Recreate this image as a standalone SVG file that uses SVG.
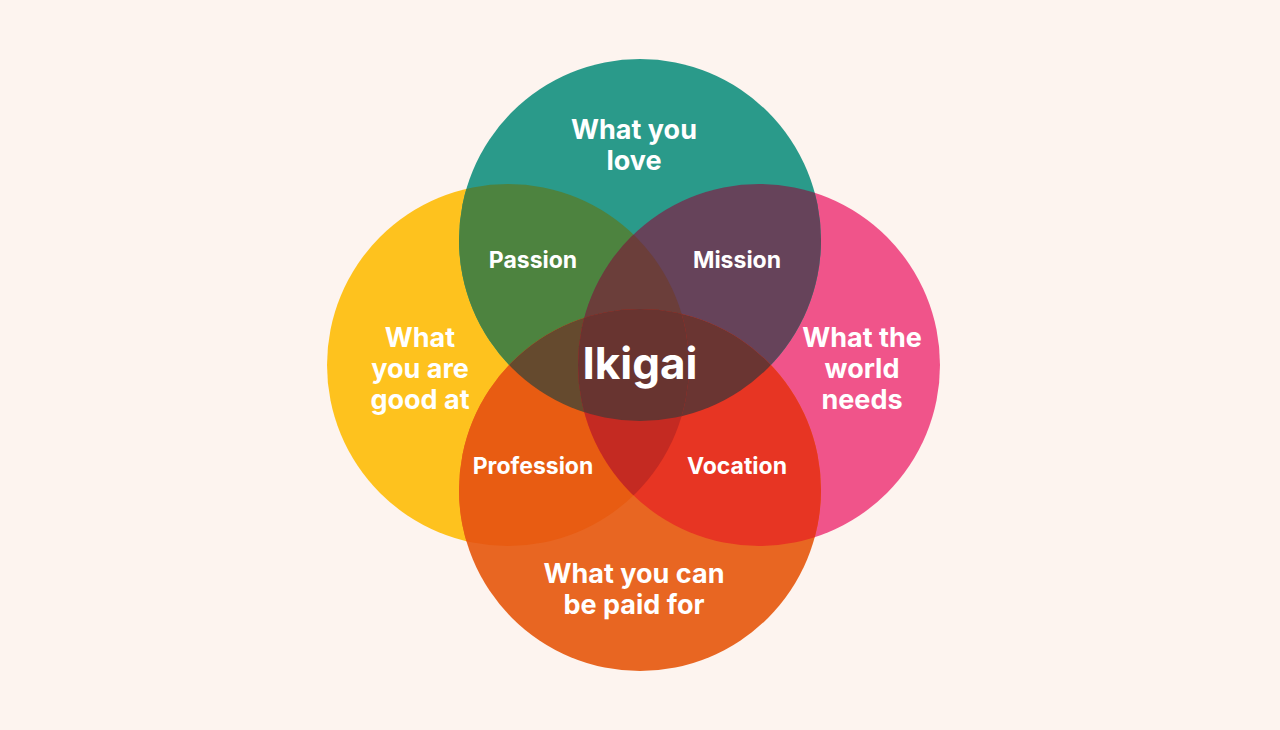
<svg xmlns="http://www.w3.org/2000/svg" width="1280" height="730" viewBox="0 0 1280 730">
<style>
text{font-family:"Inter","Liberation Sans",sans-serif;font-weight:700;fill:#fff;text-anchor:middle}
.b{font-size:27px}.s{font-size:23px}
</style>
<defs>
<clipPath id="cT"><circle cx="640" cy="240" r="181"/></clipPath>
<clipPath id="cL"><circle cx="508" cy="365" r="181"/></clipPath>
<clipPath id="cR"><circle cx="759" cy="365" r="181"/></clipPath>
<clipPath id="cB"><circle cx="640" cy="490" r="181"/></clipPath>
</defs>
<rect width="1280" height="730" fill="#fdf4ef"/>
<g id="left"><circle cx="508" cy="365" r="181" fill="#fec21e"/></g>
<g id="right"><circle cx="759" cy="365" r="181" fill="#f0548a"/></g>
<g id="bottom"><circle cx="640" cy="490" r="181" fill="#e86622"/></g>
<g id="top"><circle cx="640" cy="240" r="181" fill="#2a9a8a"/></g>
<g id="overlaps">
<g clip-path="url(#cL)"><circle cx="640" cy="240" r="181" fill="#4d833f"/></g>
<g clip-path="url(#cR)"><circle cx="640" cy="240" r="181" fill="#66435a"/></g>
<g clip-path="url(#cL)"><circle cx="640" cy="490" r="181" fill="#e85c12"/></g>
<g clip-path="url(#cR)"><circle cx="640" cy="490" r="181" fill="#e73523"/></g>
<g clip-path="url(#cL)"><g clip-path="url(#cR)"><circle cx="640" cy="240" r="181" fill="#6b3e3a"/></g></g>
<g clip-path="url(#cL)"><g clip-path="url(#cB)"><circle cx="640" cy="240" r="181" fill="#654a2e"/></g></g>
<g clip-path="url(#cR)"><g clip-path="url(#cB)"><circle cx="640" cy="240" r="181" fill="#6a3532"/></g></g>
<g clip-path="url(#cL)"><g clip-path="url(#cR)"><circle cx="640" cy="490" r="181" fill="#c42a22"/></g></g>
<g clip-path="url(#cL)"><g clip-path="url(#cR)"><g clip-path="url(#cB)"><circle cx="640" cy="240" r="181" fill="#683430"/></g></g></g>
</g>
<g id="labels">
<text class="b" x="634" y="139">What you</text><text class="b" x="634" y="170">love</text>
<text class="b" x="420" y="347">What</text><text class="b" x="420" y="378">you are</text><text class="b" x="420" y="409">good at</text>
<text class="b" x="862" y="347">What the</text><text class="b" x="862" y="378">world</text><text class="b" x="862" y="409">needs</text>
<text class="b" x="634" y="583">What you can</text><text class="b" x="634" y="614">be paid for</text>
<text class="s" x="533" y="268">Passion</text>
<text class="s" x="737" y="268">Mission</text>
<text class="s" x="533" y="474">Profession</text>
<text class="s" x="737" y="474">Vocation</text>
<text x="640" y="379" style="font-size:44px">Ikigai</text>
</g>
</svg>
